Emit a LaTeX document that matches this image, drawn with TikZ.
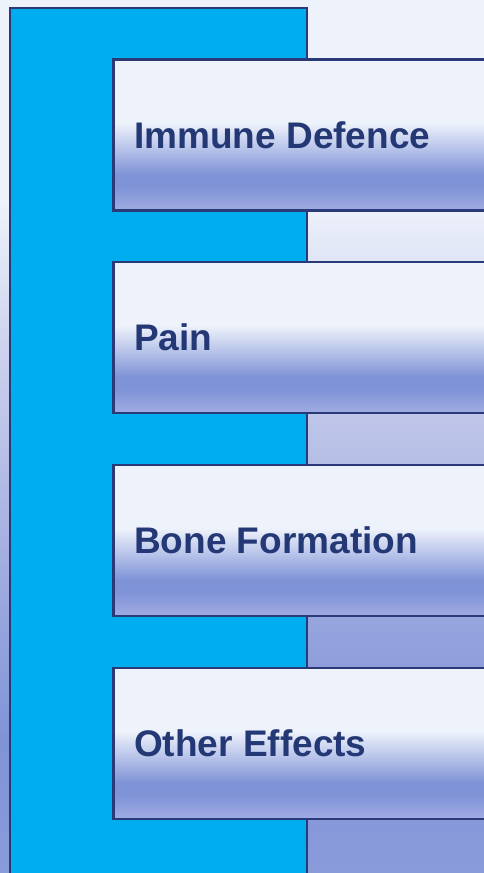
\documentclass[tikz,border=0pt]{standalone}
\usepackage{fontspec}
\setmainfont{Liberation Sans}
\usepackage{xcolor}
\usetikzlibrary{positioning}

\definecolor{panelcyan}{HTML}{00AEEF}
\definecolor{edgenavy}{HTML}{2A3978}
\definecolor{textnavy}{HTML}{233875}
\definecolor{paleblue}{HTML}{EEF2FB}
\definecolor{midlilac}{HTML}{C8CEEC}
\definecolor{softlilac}{HTML}{A8B2E2}
\definecolor{deeplilac}{HTML}{7F93D7}
\definecolor{endlilac}{HTML}{8A9BDA}
\definecolor{bandlow}{HTML}{A0ABE2}

\pgfdeclareverticalshading{bgshade}{100bp}{color(0bp)=(endlilac); color(25bp)=(endlilac);
  color(32.5bp)=(deeplilac); color(44.5bp)=(softlilac); color(54bp)=(midlilac);
  color(63.5bp)=(paleblue); color(100bp)=(paleblue)}
\pgfdeclareverticalshading{boxshade}{100bp}{color(0bp)=(bandlow); color(25bp)=(bandlow);
  color(33bp)=(deeplilac); color(37bp)=(deeplilac); color(54bp)=(paleblue);
  color(100bp)=(paleblue)}

\begin{document}
\begin{tikzpicture}[x=1pt, y=-1pt,
    panel/.style={draw=edgenavy, line width=2.5pt, fill=panelcyan},
    itembox/.style={draw=edgenavy, line width=2.5pt, shading=boxshade,
      minimum width=378pt, minimum height=151pt, inner sep=0pt, anchor=west},
    itemlabel/.style={font=\fontsize{37}{41}\selectfont\bfseries, text=textnavy,
      inner sep=0pt}]
  \useasboundingbox (0,0) rectangle (484,873);
  \clip (0,0) rectangle (484,873);

  % Background
  \shade[shading=bgshade] (0,0) rectangle (484,873);

  % Cyan panel
  \draw[panel] (10,8) rectangle (307,900);

  % Items
  \node[itembox] (imm) at (112,135) {};
  \node[itembox] (pain) at (112,337.5) {};
  \node[itembox] (bone) at (112,540.5) {};
  \node[itembox] (other) at (112,743.5) {};

  % Labels
  \node[itemlabel, right=22pt of imm.west] (imm-text) {Immune Defence};
  \node[itemlabel, right=22pt of pain.west] (pain-text) {Pain};
  \node[itemlabel, right=22pt of bone.west] (bone-text) {Bone Formation};
  \node[itemlabel, right=22pt of other.west] (other-text) {Other Effects};
\end{tikzpicture}
\end{document}
